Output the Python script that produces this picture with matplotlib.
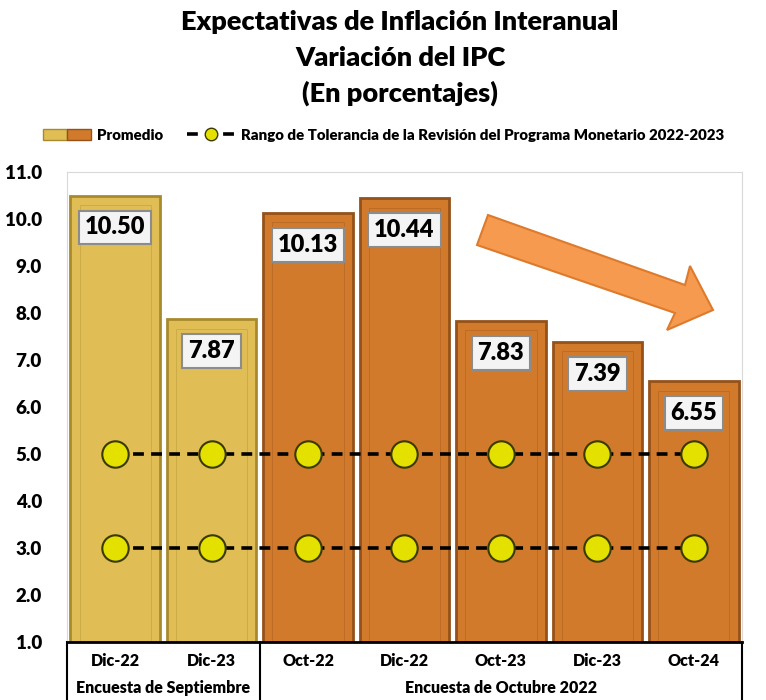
import matplotlib.pyplot as plt
import numpy as np
from matplotlib.patches import Patch, Polygon
from matplotlib.lines import Line2D
from matplotlib.legend_handler import HandlerTuple

plt.rcParams['font.family'] = ['Lato', 'DejaVu Sans']

categories = ["Dic-22", "Dic-23", "Oct-22", "Dic-22", "Oct-23", "Dic-23", "Oct-24"]
values = [10.50, 7.87, 10.13, 10.44, 7.83, 7.39, 6.55]
groups = ["Encuesta de Septiembre", "Encuesta de Octubre 2022"]
group_sizes = [2, 5]
upper_band = [5.0] * 7
lower_band = [3.0] * 7
yticks = np.arange(1.0, 11.01, 1.0)

gold = "#E0BE55"
orange = "#D27A2B"
colors = [gold] * group_sizes[0] + [orange] * group_sizes[1]
edges = ["#A88A2E"] * group_sizes[0] + ["#94521A"] * group_sizes[1]

W, H = 766, 700
fig = plt.figure(figsize=(W / 100, H / 100), dpi=100)
ax = fig.add_axes([67 / W, 1 - 642 / H, (742 - 67) / W, (642 - 172) / H])

x = np.arange(len(categories))
ax.bar(x, np.array(values) - 1.0, bottom=1.0, width=0.93, color=colors,
       edgecolor=edges, linewidth=2, zorder=2)
# inner bevel lines
ax.bar(x, np.array(values) - 1.0 - 0.2, bottom=1.0, width=0.74, color="none",
       edgecolor=edges, linewidth=0.7, alpha=0.35, zorder=2)

for xi, v in zip(x, values):
    ax.text(xi, v - 0.68, f"{v:.2f}", ha="center", va="center", fontsize=17,
            fontweight="heavy", color="black", zorder=5,
            bbox=dict(boxstyle="square,pad=0.25", fc="#F4F4F4", ec="#8C8C8C", lw=1.5))

for band in (upper_band, lower_band):
    ax.plot(x, band, ls=(0, (3, 2)), color="black", lw=2.6, zorder=3)
    ax.plot(x, band, ls="none", marker="o", ms=19, mfc="#E4E000",
            mec="#3A3A00", mew=1.5, zorder=4)

ax.set_xlim(-0.5, len(categories) - 0.5)
ax.set_ylim(1.0, 11.0)
ax.set_yticks(yticks)
ax.set_yticklabels([f"{t:.1f}" for t in yticks], fontsize=13.5, fontweight="heavy")
ax.tick_params(axis="y", length=0, pad=18)
ax.set_xticks([])
for s in ("top", "right", "left"):
    ax.spines[s].set_color("#D9D9D9")
ax.spines["bottom"].set_color("black")
ax.spines["bottom"].set_linewidth(2)

# category table below the axis
trans = ax.get_xaxis_transform()
for xi, c in zip(x, categories):
    ax.text(xi, -0.04, c, transform=trans, ha="center", va="center",
            fontsize=11.5, fontweight="heavy")
bounds = [-0.5]
for n in group_sizes:
    bounds.append(bounds[-1] + n)
for b in bounds:
    ax.plot([b, b], [0, -0.13], transform=trans, color="black", lw=1.5,
            clip_on=False)
for i, g in enumerate(groups):
    ax.text((bounds[i] + bounds[i + 1]) / 2, -0.0975, g, transform=trans,
            ha="center", va="center", fontsize=11.5, fontweight="heavy")

# titles
for yy, t in zip([22, 58, 93], ["Expectativas de Inflación Interanual",
                                "Variación del IPC", "(En porcentajes)"]):
    fig.text(400 / W, 1 - yy / H, t, ha="center", va="center", fontsize=19.5,
             fontweight="heavy")

# legend
handles = [(Patch(fc=gold, ec="#A88A2E"), Patch(fc=orange, ec="#94521A")),
           Line2D([], [], color="black", ls=(0, (3, 2)), lw=2.6, marker="o",
                  ms=9, mfc="#E4E000", mec="#3A3A00")]
labels = ["Promedio",
          "Rango de Tolerancia de la Revisión del Programa Monetario 2022-2023"]
fig.legend(handles, labels, loc="center", bbox_to_anchor=(384 / W, 1 - 135 / H),
           ncol=2, frameon=False, handler_map={tuple: HandlerTuple(ndivide=None, pad=0)},
           prop=dict(weight="heavy", size=10.8), handlelength=3.2, columnspacing=1.6,
           handletextpad=0.4)

# decreasing trend arrow (pixel coords)
pts = [(488, 215), (685, 285), (690, 266), (713, 310), (667, 330), (675, 313), (477, 245)]
poly = Polygon([(px / W, 1 - py / H) for px, py in pts], closed=True,
               transform=fig.transFigure, fc="#F59A4E", ec="#DE7A2C", lw=1.5, zorder=10)
fig.patches.append(poly)

fig.savefig("out.png", dpi=100)
